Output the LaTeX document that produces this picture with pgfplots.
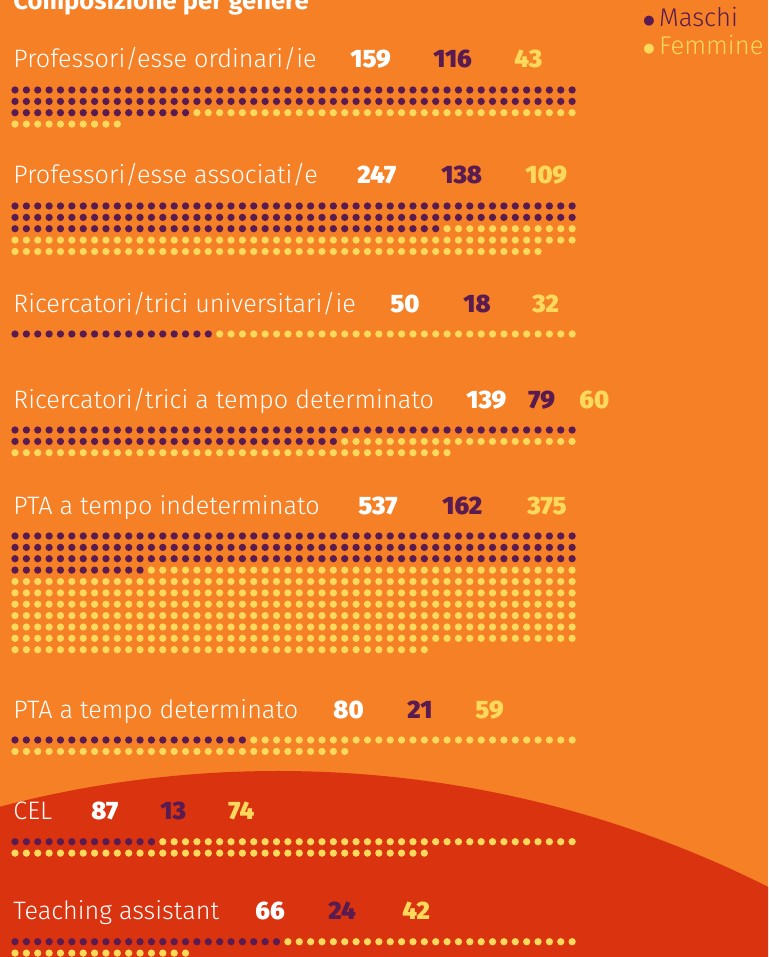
\documentclass[border=0pt]{standalone}
\usepackage{pgfplots}
\pgfplotsset{compat=1.18}
\usepackage{fontspec}
\IfFontExistsTF{Fira Sans Light}{\newfontfamily\lightfont{Fira Sans Light}}{\newfontfamily\lightfont{Fira Sans}}
\IfFontExistsTF{Fira Sans Black}{\newfontfamily\heavyfont{Fira Sans Black}}{%
  \IfFontExistsTF{Fira Sans ExtraBold}{\newfontfamily\heavyfont{Fira Sans ExtraBold}}{\newfontfamily\heavyfont{Fira Sans}[UprightFont=*-Bold]}}
\newfontfamily\firab{Fira Sans}
\newfontfamily\dejavu{DejaVu Sans}
\definecolor{bgorange}{HTML}{F58025}
\definecolor{bgred}{HTML}{DA330F}
\definecolor{purp}{HTML}{5A1B50}
\definecolor{yel}{HTML}{FFD95C}
\pgfplotsset{
  dots/.style={no markers, line width=3.65pt, line cap=round, dash pattern=on 0pt off 5.685pt},
  m/.style={dots, color=purp},
  f/.style={dots, color=yel},
}
\tikzset{
  lab/.style={anchor=base west, inner sep=0pt, text=white, font=\lightfont\fontsize{12.6}{14}\selectfont},
  num/.style={anchor=base west, inner sep=0pt, font=\heavyfont\fontsize{12.6}{14}\selectfont},
}
\newcommand{\bul}{{\dejavu\fontsize{6.5}{7}\selectfont\raisebox{0.35ex}{●}}}
\begin{document}
\begin{tikzpicture}
\useasboundingbox (0,0) rectangle (384pt,478.5pt);
\clip (0,0) rectangle (384pt,478.5pt);
\fill[bgorange] (0,0) rectangle (384pt,478.5pt);
\fill[bgred] (139pt,-453pt) circle[radius=546pt];
\begin{axis}[at={(0,0)}, anchor=south west, scale only axis,
  width=384pt, height=478.5pt, xmin=0, xmax=768, ymin=0, ymax=957,
  y dir=reverse, hide axis, clip=false]
% Professori/esse ordinari/ie: 116 M, 43 F
\addplot[m] coordinates {(15,90) (573,90)};
\addplot[m] coordinates {(15,101.4) (573,101.4)};
\addplot[m] coordinates {(15,112.7) (186.6,112.7)};
\addplot[f] coordinates {(196.9,112.7) (573,112.7)};
\addplot[f] coordinates {(15,124.1) (118.3,124.1)};
% Professori/esse associati/e: 138 M, 109 F
\addplot[m] coordinates {(15,206) (573,206)};
\addplot[m] coordinates {(15,217.4) (573,217.4)};
\addplot[m] coordinates {(15,228.7) (436.7,228.7)};
\addplot[f] coordinates {(447.1,228.7) (573,228.7)};
\addplot[f] coordinates {(15,240.1) (573,240.1)};
\addplot[f] coordinates {(15,251.5) (539,251.5)};
% Ricercatori/trici universitari/ie: 18 M, 32 F
\addplot[m] coordinates {(15,334) (209.3,334)};
\addplot[f] coordinates {(219.7,334) (573,334)};
% Ricercatori/trici a tempo determinato: 79 M, 60 F
\addplot[m] coordinates {(15,430) (573,430)};
\addplot[m] coordinates {(15,441.4) (334.4,441.4)};
\addplot[f] coordinates {(344.7,441.4) (573,441.4)};
\addplot[f] coordinates {(15,452.7) (448.1,452.7)};
% PTA a tempo indeterminato: 162 M, 375 F
\addplot[m] coordinates {(15,536) (573,536)};
\addplot[m] coordinates {(15,547.4) (573,547.4)};
\addplot[m] coordinates {(15,558.7) (573,558.7)};
\addplot[m] coordinates {(15,570.1) (141.1,570.1)};
\addplot[f] coordinates {(151.4,570.1) (573,570.1)};
\addplot[f] coordinates {(15,581.5) (573,581.5)};
\addplot[f] coordinates {(15,592.9) (573,592.9)};
\addplot[f] coordinates {(15,604.2) (573,604.2)};
\addplot[f] coordinates {(15,615.6) (573,615.6)};
\addplot[f] coordinates {(15,627.0) (573,627.0)};
\addplot[f] coordinates {(15,638.3) (573,638.3)};
\addplot[f] coordinates {(15,649.7) (425.3,649.7)};
% PTA a tempo determinato: 21 M, 59 F
\addplot[m] coordinates {(15,740) (243.4,740)};
\addplot[f] coordinates {(253.8,740) (573,740)};
\addplot[f] coordinates {(15,751.4) (345.7,751.4)};
% CEL: 13 M, 74 F
\addplot[m] coordinates {(15,841.7) (152.4,841.7)};
\addplot[f] coordinates {(162.8,841.7) (573,841.7)};
\addplot[f] coordinates {(15,853.1) (425.3,853.1)};
% Teaching assistant: 24 M, 42 F
\addplot[m] coordinates {(15,941.7) (277.5,941.7)};
\addplot[f] coordinates {(287.9,941.7) (573,941.7)};
\addplot[f] coordinates {(15,953.1) (186.6,953.1)};
% texts
\node[anchor=base west, inner sep=0pt, text=white, font=\firab\bfseries\fontsize{12.8}{14}\selectfont] at (axis cs:13,9.5) {Composizione per genere};
\node[anchor=base west, inner sep=0pt, text=purp, font=\lightfont\fontsize{12.8}{14}\selectfont] at (axis cs:643,26.7) {\bul\hspace{2.2pt}Maschi};
\node[anchor=base west, inner sep=0pt, text=yel, font=\lightfont\fontsize{12.8}{14}\selectfont] at (axis cs:643,55) {\bul\hspace{2.2pt}Femmine};
\node[lab] at (axis cs:13,68) {Professori/esse ordinari/ie};
\node[num,text=white] at (axis cs:350,68) {159};
\node[num,text=purp] at (axis cs:433,68) {116};
\node[num,text=yel] at (axis cs:514,68) {43};
\node[lab] at (axis cs:13,184) {Professori/esse associati/e};
\node[num,text=white] at (axis cs:357,184) {247};
\node[num,text=purp] at (axis cs:441,184) {138};
\node[num,text=yel] at (axis cs:525,184) {109};
\node[lab] at (axis cs:13,312) {Ricercatori/trici universitari/ie};
\node[num,text=white] at (axis cs:390,312) {50};
\node[num,text=purp] at (axis cs:463,312) {18};
\node[num,text=yel] at (axis cs:532,312) {32};
\node[lab] at (axis cs:13,408) {Ricercatori/trici a tempo determinato};
\node[num,text=white] at (axis cs:466,408) {139};
\node[num,text=purp] at (axis cs:528,408) {79};
\node[num,text=yel] at (axis cs:579,408) {60};
\node[lab] at (axis cs:13,514) {PTA a tempo indeterminato};
\node[num,text=white] at (axis cs:358,514) {537};
\node[num,text=purp] at (axis cs:442,514) {162};
\node[num,text=yel] at (axis cs:527,514) {375};
\node[lab] at (axis cs:13,718) {PTA a tempo determinato};
\node[num,text=white] at (axis cs:333,718) {80};
\node[num,text=purp] at (axis cs:407,718) {21};
\node[num,text=yel] at (axis cs:475,718) {59};
\node[lab] at (axis cs:13,819.7) {CEL};
\node[num,text=white] at (axis cs:91,819.7) {87};
\node[num,text=purp] at (axis cs:160,819.7) {13};
\node[num,text=yel] at (axis cs:228,819.7) {74};
\node[lab] at (axis cs:13,919.7) {Teaching assistant};
\node[num,text=white] at (axis cs:255,919.7) {66};
\node[num,text=purp] at (axis cs:328,919.7) {24};
\node[num,text=yel] at (axis cs:402,919.7) {42};
\end{axis}
\end{tikzpicture}
\end{document}
